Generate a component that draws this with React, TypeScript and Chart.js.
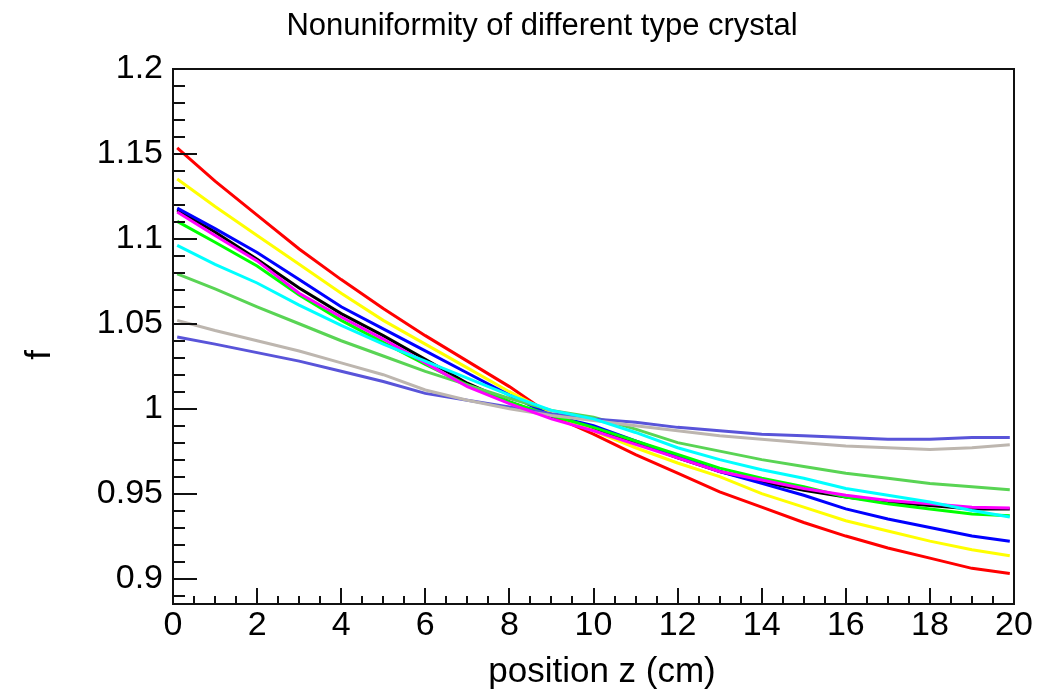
import React, { useEffect, useRef } from 'react';
import { Chart, registerables } from 'chart.js';

Chart.register(...registerables);

// ---- data ----
const positionZ = [0.1, 1, 2, 3, 4, 5, 6, 7, 8, 9, 10, 11, 12, 13, 14, 15, 16, 17, 18, 19, 19.9];

const fRed = [1.1535, 1.134, 1.114, 1.094, 1.076, 1.059, 1.043, 1.028, 1.013, 0.996, 0.985, 0.973, 0.962, 0.951, 0.942, 0.933, 0.925, 0.918, 0.912, 0.906, 0.903];
const fYellow = [1.1352, 1.119, 1.102, 1.085, 1.068, 1.052, 1.038, 1.024, 1.010, 0.997, 0.987, 0.977, 0.968, 0.960, 0.950, 0.942, 0.934, 0.928, 0.922, 0.917, 0.9134];
const fBlue = [1.1181, 1.106, 1.092, 1.076, 1.060, 1.047, 1.034, 1.021, 1.008, 0.996, 0.990, 0.981, 0.972, 0.963, 0.956, 0.949, 0.941, 0.935, 0.930, 0.925, 0.922];
const fBlack = [1.117, 1.104, 1.088, 1.071, 1.056, 1.043, 1.029, 1.015, 1.004, 0.995, 0.988, 0.980, 0.971, 0.963, 0.957, 0.952, 0.948, 0.945, 0.943, 0.941, 0.941];
const fMagenta = [1.1158, 1.102, 1.087, 1.068, 1.054, 1.041, 1.027, 1.013, 1.003, 0.994, 0.987, 0.979, 0.971, 0.963, 0.958, 0.953, 0.949, 0.946, 0.944, 0.942, 0.9415];
const fGreen = [1.1103, 1.098, 1.084, 1.067, 1.052, 1.039, 1.026, 1.014, 1.004, 0.996, 0.989, 0.981, 0.973, 0.965, 0.959, 0.954, 0.948, 0.944, 0.941, 0.938, 0.937];
const fCyan = [1.0961, 1.085, 1.074, 1.061, 1.049, 1.038, 1.028, 1.018, 1.008, 0.999, 0.994, 0.986, 0.977, 0.970, 0.964, 0.959, 0.953, 0.949, 0.945, 0.940, 0.9362];
const fMidGreen = [1.0794, 1.0705, 1.060, 1.050, 1.040, 1.031, 1.022, 1.014, 1.006, 0.999, 0.995, 0.988, 0.980, 0.975, 0.970, 0.966, 0.962, 0.959, 0.956, 0.954, 0.9522];
const fGray = [1.052, 1.046, 1.040, 1.034, 1.027, 1.020, 1.011, 1.005, 1.000, 0.996, 0.993, 0.990, 0.987, 0.984, 0.982, 0.980, 0.978, 0.977, 0.976, 0.977, 0.9787];
const fSlate = [1.0422, 1.038, 1.033, 1.028, 1.022, 1.016, 1.009, 1.005, 1.001, 0.997, 0.994, 0.992, 0.989, 0.987, 0.985, 0.984, 0.983, 0.982, 0.982, 0.983, 0.983];

const yTickValues = [0.9, 0.95, 1, 1.05, 1.1, 1.15, 1.2];
const yTickLabels = ['0.9', '0.95', '1', '1.05', '1.1', '1.15', '1.2'];
const xTickValues = [0, 2, 4, 6, 8, 10, 12, 14, 16, 18, 20];
const xTickLabels = ['0', '2', '4', '6', '8', '10', '12', '14', '16', '18', '20'];

const titleText = 'Nonuniformity of different type crystal';
const xTitleText = 'position z (cm)';
const yTitleText = 'f';

const FONT = '"Liberation Sans", Arial, Helvetica, sans-serif';

const toPoints = (ys: number[]) => positionZ.map((x, i) => ({ x, y: ys[i] }));

const seriesList: { name: string; values: number[]; color: string }[] = [
  { name: 'cyan', values: fCyan, color: '#00ffff' },
  { name: 'magenta', values: fMagenta, color: '#ff00ff' },
  { name: 'gray', values: fGray, color: '#bdb6af' },
  { name: 'slate', values: fSlate, color: '#5954d9' },
  { name: 'midgreen', values: fMidGreen, color: '#59d454' },
  { name: 'green', values: fGreen, color: '#00ff00' },
  { name: 'blue', values: fBlue, color: '#0000ff' },
  { name: 'yellow', values: fYellow, color: '#ffff00' },
  { name: 'red', values: fRed, color: '#ff0000' },
  { name: 'black', values: fBlack, color: '#000000' },
];

const rootFrame = {
  id: 'rootFrame',
  afterDatasetsDraw(chart: any) {
    const { ctx, chartArea: a, scales } = chart;
    const xs = scales.x;
    const ys = scales.y;
    ctx.save();
    ctx.strokeStyle = '#111';
    ctx.lineWidth = 2;
    ctx.strokeRect(a.left, a.top, a.right - a.left, a.bottom - a.top);
    ctx.beginPath();
    // y ticks (major 0.05, minor 0.01)
    for (let k = 89; k <= 120; k++) {
      const v = k / 100;
      const py = Math.round(ys.getPixelForValue(v)) + 0.0;
      if (py < a.top - 0.5 || py > a.bottom + 0.5) continue;
      const len = k % 5 === 0 ? 24 : 12;
      ctx.moveTo(a.left, py);
      ctx.lineTo(a.left + len, py);
    }
    // x ticks (major 2, minor 0.5)
    for (let k = 0; k <= 40; k++) {
      const v = k / 2;
      const px = Math.round(xs.getPixelForValue(v));
      const len = k % 4 === 0 ? 16 : 8;
      ctx.moveTo(px, a.bottom);
      ctx.lineTo(px, a.bottom - len);
    }
    ctx.stroke();

    ctx.fillStyle = '#000';
    // title
    ctx.font = `31px ${FONT}`;
    ctx.textAlign = 'center';
    ctx.textBaseline = 'alphabetic';
    ctx.fillText(titleText, 542, 35);
    // x title
    ctx.font = `35px ${FONT}`;
    ctx.fillText(xTitleText, 602, 682);
    // y title
    ctx.translate(50, 355);
    ctx.rotate(-Math.PI / 2);
    ctx.textAlign = 'center';
    ctx.textBaseline = 'alphabetic';
    ctx.fillText(yTitleText, 0, 0);
    ctx.restore();
  },
};

export default function App() {
  const ref = useRef<HTMLCanvasElement | null>(null);
  useEffect(() => {
    if (!ref.current) return;
    const chart = new Chart(ref.current, {
      type: 'line',
      data: {
        datasets: seriesList.map((s) => ({
          label: s.name,
          data: toPoints(s.values),
          borderColor: s.color,
          backgroundColor: s.color,
          borderWidth: 3,
          pointRadius: 0,
          tension: 0,
          fill: false,
        })),
      },
      options: {
        animation: false,
        responsive: false,
        events: [],
        layout: { padding: { top: 69, right: 26, left: 0, bottom: 0 } },
        plugins: {
          legend: { display: false },
          title: { display: false },
          tooltip: { enabled: false },
        },
        scales: {
          x: {
            type: 'linear',
            min: 0,
            max: 20,
            grid: { display: false, drawTicks: false },
            border: { display: false },
            afterBuildTicks: (s: any) => {
              s.ticks = xTickValues.map((v) => ({ value: v }));
            },
            afterFit: (s: any) => {
              s.height = 88;
            },
            ticks: {
              padding: 1,
              maxRotation: 0,
              autoSkip: false,
              color: '#000',
              font: { family: FONT, size: 34 },
              callback: (v: any) => {
                const i = xTickValues.indexOf(Number(v));
                return i >= 0 ? xTickLabels[i] : '';
              },
            },
          },
          y: {
            type: 'linear',
            min: 0.885,
            max: 1.2,
            grid: { display: false, drawTicks: false },
            border: { display: false },
            afterBuildTicks: (s: any) => {
              s.ticks = yTickValues.map((v) => ({ value: v }));
            },
            afterFit: (s: any) => {
              s.width = 173;
            },
            ticks: {
              padding: 10,
              autoSkip: false,
              color: '#000',
              font: { family: FONT, size: 34 },
              callback: (v: any) => {
                const i = yTickValues.findIndex((t) => Math.abs(t - Number(v)) < 1e-9);
                return i >= 0 ? yTickLabels[i] : '';
              },
            },
          },
        },
      },
      plugins: [rootFrame],
    });
    return () => chart.destroy();
  }, []);
  return (
    <div style={{ position: 'fixed', left: 0, top: 0, width: 1040, height: 692, background: '#fff' }}>
      <canvas ref={ref} width={1040} height={692} style={{ display: 'block' }} />
    </div>
  );
}
